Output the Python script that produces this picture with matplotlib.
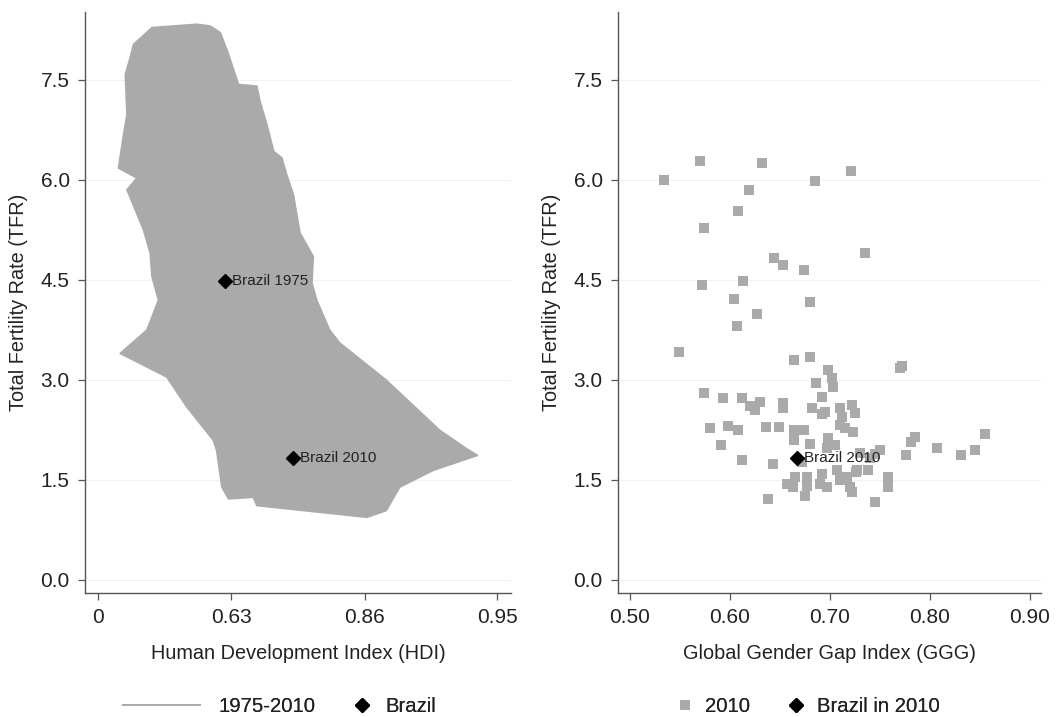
import numpy as np
import matplotlib
matplotlib.use("Agg")
import matplotlib.pyplot as plt
from matplotlib.lines import Line2D

plt.rcParams['font.family'] = ['Liberation Sans', 'DejaVu Sans']

# ---------------- data ----------------
# Left panel: outline of the mass of country trajectories 1975-2010 (HDI, TFR)
hdi_outline = [0.332, 0.523, 0.568, 0.600, 0.624, 0.651, 0.696, 0.703, 0.718, 0.732,
               0.748, 0.757, 0.769, 0.780, 0.801, 0.799, 0.806, 0.824, 0.837, 0.885,
               0.923, 0.937, 0.942, 0.919, 0.896, 0.885, 0.867, 0.696, 0.688, 0.624,
               0.605, 0.589, 0.579, 0.486, 0.402, 0.152, 0.306, 0.364, 0.332, 0.323,
               0.288, 0.194, 0.252, 0.141, 0.173, 0.194, 0.184, 0.213, 0.233]
tfr_outline = [8.285, 8.335, 8.309, 8.210, 7.883, 7.432, 7.406, 7.181, 6.830, 6.429,
               6.329, 6.078, 5.777, 5.206, 4.849, 4.453, 4.198, 3.746, 3.551, 2.994,
               2.242, 1.966, 1.866, 1.640, 1.389, 1.038, 0.937, 1.113, 1.238, 1.214,
               1.389, 1.941, 2.091, 2.592, 3.043, 3.396, 3.746, 4.197, 4.548, 4.905,
               5.251, 5.852, 6.028, 6.179, 6.680, 6.981, 7.582, 7.834, 8.034]

brazil_hdi = [0.614, 0.769]
brazil_tfr = [4.49, 1.825]
brazil_labels = ["Brazil 1975", "Brazil 2010"]

hdi_ticks = [0.0, 0.632, 0.865, 0.950]
hdi_ticklabels = ["0", "0.63", "0.86", "0.95"]

# Right panel: 2010 cross-section (GGG, TFR)
ggg_2010 = [0.534, 0.570, 0.632, 0.721, 0.685, 0.619, 0.608, 0.574, 0.735, 0.644,
            0.653, 0.674, 0.572, 0.613, 0.604, 0.680, 0.627, 0.607,
            0.549, 0.664, 0.680, 0.698, 0.702, 0.703, 0.686, 0.692, 0.770, 0.772,
            0.574, 0.593, 0.612, 0.620, 0.625, 0.630, 0.653, 0.653, 0.682, 0.692,
            0.695, 0.710, 0.712, 0.722, 0.725, 0.710, 0.715, 0.723,
            0.580, 0.598, 0.608, 0.636, 0.649, 0.664, 0.674, 0.664, 0.680, 0.698,
            0.705, 0.697, 0.591, 0.612, 0.643, 0.672,
            0.665, 0.657, 0.663, 0.677, 0.677, 0.675, 0.692, 0.690, 0.697, 0.707,
            0.710, 0.717, 0.720, 0.727, 0.722, 0.638,
            0.785, 0.781, 0.807, 0.831, 0.845, 0.855, 0.776, 0.750, 0.745, 0.740,
            0.738, 0.726, 0.758, 0.758, 0.745, 0.730]
tfr_2010 = [6.00, 6.28, 6.26, 6.14, 5.99, 5.85, 5.53, 5.28, 4.91, 4.83,
            4.72, 4.65, 4.43, 4.49, 4.21, 4.17, 3.98, 3.80,
            3.41, 3.29, 3.34, 3.15, 3.02, 2.89, 2.95, 2.74, 3.17, 3.21,
            2.80, 2.73, 2.73, 2.60, 2.54, 2.67, 2.65, 2.57, 2.58, 2.49,
            2.52, 2.57, 2.44, 2.62, 2.50, 2.32, 2.27, 2.22,
            2.28, 2.31, 2.25, 2.29, 2.29, 2.24, 2.24, 2.10, 2.04, 2.12,
            2.02, 1.97, 2.02, 1.80, 1.74, 1.77,
            1.54, 1.44, 1.39, 1.54, 1.41, 1.26, 1.59, 1.44, 1.39, 1.64,
            1.49, 1.54, 1.39, 1.64, 1.31, 1.21,
            2.14, 2.07, 1.98, 1.87, 1.95, 2.19, 1.87, 1.94, 1.89, 1.82,
            1.64, 1.61, 1.54, 1.39, 1.17, 1.90]

brazil_ggg = [0.667]
brazil_tfr_2010 = [1.83]

ggg_ticks = [0.50, 0.60, 0.70, 0.80, 0.90]
tfr_ticks = [0.0, 1.5, 3.0, 4.5, 6.0, 7.5]

# ---------------- styling ----------------
GRAY = '#aaaaaa'
TXT = '#222222'
AX = '#555555'
FS = 15
LFS = 14.3

fig = plt.figure(figsize=(10.6, 7.17), dpi=100)
axL = fig.add_axes([85/1060, 1-593/717, 426/1060, 581/717])
axR = fig.add_axes([618/1060, 1-593/717, 423/1060, 581/717])


def style(ax):
    for s in ['top', 'right']:
        ax.spines[s].set_visible(False)
    for s in ['left', 'bottom']:
        ax.spines[s].set_color(AX)
        ax.spines[s].set_linewidth(1.0)
    ax.tick_params(axis='both', direction='out', length=5, width=0.9,
                   color=AX, labelsize=FS, labelcolor=TXT, pad=6)
    ax.set_ylim(-0.2, 8.52)
    ax.set_yticks(tfr_ticks)
    ax.set_yticklabels([f"{t:.1f}" for t in tfr_ticks])
    ax.yaxis.grid(True, color='#f1f1f1', linewidth=0.8)
    ax.set_axisbelow(True)
    ax.set_ylabel("Total Fertility Rate (TFR)", fontsize=LFS, color=TXT, labelpad=9)


def add_legend(handle, label, x_px, hl, pad):
    leg = fig.legend([handle], [label], loc='center left',
                     bbox_to_anchor=(x_px/1060, 1-707/717),
                     bbox_transform=fig.transFigure, frameon=False,
                     fontsize=14.6, handlelength=hl, handletextpad=pad,
                     borderpad=0, borderaxespad=0, labelcolor=TXT)
    fig.add_artist(leg)


# ---- left panel ----
fwd = lambda x: -np.log(1 - np.asarray(x, dtype=float))
inv = lambda y: 1 - np.exp(-np.asarray(y, dtype=float))
axL.set_xscale('function', functions=(fwd, inv))
style(axL)
axL.set_xlim(1 - np.exp(0.1), 1 - np.exp(-3.1))

hx = hdi_outline + [hdi_outline[0]]
ty = tfr_outline + [tfr_outline[0]]
axL.fill(hx, ty, color=GRAY, lw=0, zorder=2)
line_h, = axL.plot(hx, ty, color=GRAY, lw=1.3, zorder=2)
brL, = axL.plot(brazil_hdi, brazil_tfr, linestyle='none', marker='D', markersize=7,
                color='black', zorder=4)
for x, y, lab in zip(brazil_hdi, brazil_tfr, brazil_labels):
    axL.annotate(lab, (x, y), xytext=(5, 0), textcoords='offset points',
                 va='center', ha='left', fontsize=11, color=TXT, zorder=5)
axL.set_xticks(hdi_ticks)
axL.set_xticklabels(hdi_ticklabels)
axL.minorticks_off()
axL.set_xlabel("Human Development Index (HDI)", fontsize=LFS, color=TXT, labelpad=12)

# ---- right panel ----
style(axR)
axR.set_xlim(0.488, 0.911)
sq, = axR.plot(ggg_2010, tfr_2010, linestyle='none', marker='s', markersize=7.4,
               markeredgewidth=0, color=GRAY, zorder=3)
brR, = axR.plot(brazil_ggg, brazil_tfr_2010, linestyle='none', marker='D', markersize=7,
                color='black', zorder=4)
axR.annotate("Brazil 2010", (brazil_ggg[0], brazil_tfr_2010[0]), xytext=(5, 0),
             textcoords='offset points', va='center', ha='left', fontsize=11,
             color=TXT, zorder=5)
axR.set_xticks(ggg_ticks)
axR.set_xticklabels([f"{t:.2f}" for t in ggg_ticks])
axR.set_xlabel("Global Gender Gap Index (GGG)", fontsize=LFS, color=TXT, labelpad=12)

# ---- legends (bottom) ----
em = 14.6 * 100 / 72.0
add_legend(line_h, '1975-2010', 123, 77/em, 18/em)
add_legend(brL, 'Brazil', 352, 1.0, 13/em)
add_legend(sq, '2010', 675, 1.0, 10/em)
add_legend(brR, 'Brazil in 2010', 786, 1.0, 11/em)

fig.savefig("out.png", dpi=100)
